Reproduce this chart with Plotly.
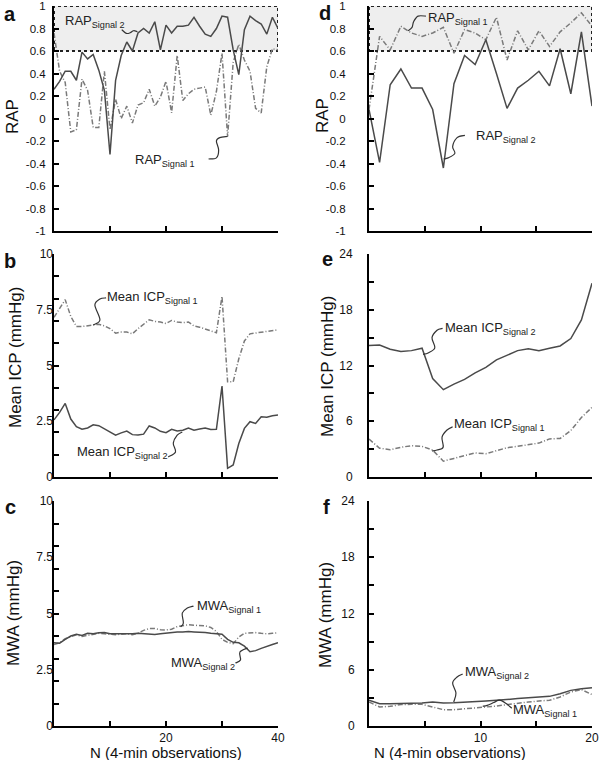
import plotly.graph_objects as go

FONT = "Liberation Sans, Arial, sans-serif"

# ---------------- data ----------------
n_left = list(range(41))  # observation index, panels a-c
n_right = [0, 0.95, 1.9, 2.86, 3.81, 4.76, 5.71, 6.67, 7.62, 8.57, 9.52,
           10.48, 11.43, 12.38, 13.33, 14.29, 15.24, 16.19, 17.14, 18.1, 19.05, 20]

rap_sig1_a = [0.76, 0.42, 0.32, -0.12, -0.10, 0.35, 0.25, -0.08, -0.08, 0.42, -0.10,
              0.17, 0.00, 0.11, -0.04, 0.12, 0.14, 0.26, 0.11, 0.19, 0.33,
              0.05, 0.56, 0.16, 0.22, 0.26, 0.27, 0.28, 0.03, 0.24, 0.58,
              -0.16, 0.50, 0.66, 0.52, 0.42, 0.09, 0.05, 0.46, 0.62, 0.61]
rap_sig2_a = [0.26, 0.33, 0.42, 0.42, 0.34, 0.59, 0.53, 0.57, 0.43, 0.25, -0.32,
              0.34, 0.56, 0.68, 0.60, 0.76, 0.80, 0.76, 0.86, 0.61, 0.83,
              0.76, 0.82, 0.82, 0.83, 0.90, 0.82, 0.75, 0.73, 0.80, 0.91,
              0.90, 0.61, 0.39, 0.79, 0.91, 0.87, 0.84, 0.75, 0.90, 0.80]

icp_sig1_b = [7.16, 7.55, 7.95, 7.20, 6.75, 6.75, 6.78, 6.82, 6.85, 6.78, 6.65,
              6.45, 6.50, 6.50, 6.42, 6.65, 6.85, 7.05, 6.98, 6.95, 6.88,
              7.02, 6.95, 6.92, 6.95, 6.77, 6.72, 6.65, 6.55, 6.47, 8.10,
              4.27, 4.27, 5.30, 6.10, 6.42, 6.45, 6.48, 6.52, 6.56, 6.60]
icp_sig2_b = [2.56, 2.90, 3.30, 2.60, 2.26, 2.14, 2.20, 2.34, 2.30, 2.15, 2.00,
              1.88, 1.98, 2.06, 1.90, 1.88, 1.92, 2.29, 2.20, 2.05, 1.99,
              2.14, 2.06, 2.10, 2.20, 2.10, 2.15, 2.20, 2.13, 2.14, 4.08,
              0.39, 0.54, 1.50, 2.18, 2.48, 2.40, 2.70, 2.68, 2.75, 2.78]

mwa_sig1_c = [3.62, 3.70, 3.88, 3.98, 4.05, 3.98, 4.02, 4.08, 4.12, 4.10, 4.08,
              4.06, 4.08, 4.10, 4.06, 4.12, 4.25, 4.33, 4.33, 4.28, 4.27,
              4.30, 4.42, 4.47, 4.50, 4.48, 4.48, 4.45, 4.38, 4.20, 3.85,
              3.72, 3.66, 3.95, 4.12, 4.15, 4.15, 4.12, 4.10, 4.12, 4.14]
mwa_sig2_c = [3.70, 3.68, 3.85, 4.00, 4.08, 4.02, 4.12, 4.10, 4.14, 4.16, 4.10,
              4.10, 4.08, 4.10, 4.10, 4.12, 4.10, 4.08, 4.07, 4.10, 4.13,
              4.15, 4.18, 4.18, 4.20, 4.18, 4.18, 4.15, 4.12, 4.10, 4.08,
              3.85, 3.72, 3.70, 3.55, 3.30, 3.35, 3.45, 3.55, 3.62, 3.70]

rap_sig1_d = [0.08, 0.73, 0.61, 0.82, 0.76, 0.73, 0.76, 0.81, 0.58, 0.79, 0.76,
              0.70, 0.90, 0.52, 0.78, 0.61, 0.78, 0.64, 0.77, 0.85, 0.94, 0.82]
rap_sig2_d = [0.08, -0.39, 0.30, 0.44, 0.27, 0.27, 0.08, -0.44, 0.31, 0.56, 0.48,
              0.70, 0.40, 0.09, 0.27, 0.34, 0.42, 0.29, 0.62, 0.22, 0.77, 0.11]

icp_sig1_e = [4.08, 3.10, 2.94, 3.20, 3.37, 3.30, 2.90, 1.70, 2.00, 2.30, 2.60,
              2.50, 2.85, 3.15, 3.30, 3.45, 3.65, 4.10, 4.15, 5.00, 6.40, 7.50]
icp_sig2_e = [14.15, 14.20, 13.75, 13.50, 13.60, 13.86, 10.60, 9.40, 10.00, 10.50, 11.20,
              11.80, 12.60, 13.10, 13.60, 13.80, 13.60, 13.86, 14.10, 14.90, 16.90, 20.85]

mwa_sig1_f = [2.56, 2.03, 2.10, 2.28, 2.31, 2.31, 2.03, 1.74, 1.74, 1.81, 1.88,
              2.03, 2.13, 2.28, 2.45, 2.56, 2.67, 2.74, 3.10, 3.63, 3.88, 3.35]
mwa_sig2_f = [2.74, 2.38, 2.38, 2.38, 2.38, 2.45, 2.56, 2.45, 2.47, 2.56, 2.63,
              2.67, 2.74, 2.80, 2.92, 3.00, 3.10, 3.16, 3.45, 3.80, 3.98, 4.09]

rap_tickvals = [-1, -0.8, -0.6, -0.4, -0.2, 0, 0.2, 0.4, 0.6, 0.8, 1]
rap_ticktext = ["-1", "-0.8", "-0.6", "-0.4", "-0.2", "0", "0.2", "0.4", "0.6", "0.8", "1"]
mmhg10_tickmarks = [0, 1, 2, 3, 4, 5, 6, 7, 8, 9, 10]
mmhg10_labelvals = [0, 2.5, 5, 7.5, 10]
mmhg10_labeltext = ["0", "2.5", "5", "7.5", "10"]
mmhg24_labelvals = [0, 6, 12, 18, 24]
mmhg24_minorvals = [3, 9, 15, 21]
xl_tickmarks = [0, 10, 20, 30, 40]
xl_labelvals = [20, 40]
xl_minorvals = [0, 10, 30]
xr_tickmarks = [0, 5, 10, 15, 20]
xr_labelvals = [10, 20]
xr_minorvals = [0, 5, 15]

SOLID = "#4a4a4a"
DASHC = "#7a7a7a"
DASH = "5px,2px,1px,2px"

W, H = 600, 760

fig = go.Figure()

def add_pair(xs, s1, s2, xa, ya1, ya2):
    fig.add_trace(go.Scatter(x=xs, y=s1, mode="lines", xaxis=xa, yaxis=ya1,
                             line=dict(color=DASHC, width=1.5, dash=DASH),
                             showlegend=False, hoverinfo="skip"))
    fig.add_trace(go.Scatter(x=xs, y=s2, mode="lines", xaxis=xa, yaxis=ya2,
                             line=dict(color=SOLID, width=1.5),
                             showlegend=False, hoverinfo="skip"))

add_pair(n_left, rap_sig1_a, rap_sig2_a, "x", "y", "y")
add_pair(n_left, icp_sig1_b, icp_sig2_b, "x2", "y2", "y7")
add_pair(n_left, mwa_sig1_c, mwa_sig2_c, "x3", "y3", "y8")
add_pair(n_right, rap_sig1_d, rap_sig2_d, "x4", "y4", "y4")
add_pair(n_right, icp_sig1_e, icp_sig2_e, "x5", "y5", "y5")
add_pair(n_right, mwa_sig1_f, mwa_sig2_f, "x6", "y6", "y6")

def hdom(x0, x1):
    return [x0 / W, x1 / W]

def vdom(top, bottom):
    return [1 - bottom / H, 1 - top / H]

XL = hdom(54, 278)
XR = hdom(369, 592)
RA = vdom(6, 231)
RB = vdom(254, 477)
RC = vdom(501, 726)

MINOR = dict(ticks="inside", ticklen=5, tickwidth=1.5, tickcolor="black")

def base_axis(**kw):
    d = dict(showline=True, linecolor="black", linewidth=2, ticks="inside",
             ticklen=5, tickwidth=1.5, tickcolor="black", showgrid=False,
             zeroline=False, automargin=False, fixedrange=True,
             tickfont=dict(family=FONT, size=12, color="#111"))
    d.update(kw)
    return d

def x_top(domain, anchor, rng, marks):
    return base_axis(domain=domain, anchor=anchor, range=rng, tickvals=marks,
                     showticklabels=False)

def x_bottom(domain, anchor, rng, labs, minors):
    return base_axis(domain=domain, anchor=anchor, range=rng, tickvals=labs,
                     minor=dict(tickvals=minors, **MINOR), ticklabelstandoff=0)

RAPFONT = dict(family=FONT, size=11.5, color="#111")

layout = dict(
    width=W, height=H, margin=dict(l=0, r=0, t=0, b=0),
    paper_bgcolor="white", plot_bgcolor="white", showlegend=False,
    font=dict(family=FONT, color="#111"),
    xaxis=x_top(XL, "y", [0, 40], xl_tickmarks),
    xaxis2=x_top(XL, "y2", [0, 40], xl_tickmarks),
    xaxis3=x_bottom(XL, "y3", [0, 40], xl_labelvals, xl_minorvals),
    xaxis4=x_top(XR, "y4", [0, 20], xr_tickmarks),
    xaxis5=x_top(XR, "y5", [0, 20], xr_tickmarks),
    xaxis6=x_bottom(XR, "y6", [0, 20], xr_labelvals, xr_minorvals),
    yaxis=base_axis(domain=RA, anchor="x", range=[-1, 1], tickvals=rap_tickvals,
                    ticktext=rap_ticktext, ticklabelstandoff=4, tickfont=RAPFONT),
    yaxis2=base_axis(domain=RB, anchor="x2", range=[0, 10], tickvals=mmhg10_tickmarks,
                     showticklabels=False),
    yaxis7=base_axis(domain=RB, anchor="x2", overlaying="y2", side="left", range=[0, 10],
                     tickvals=mmhg10_labelvals, ticktext=mmhg10_labeltext, ticks="",
                     showline=False, ticklabelstandoff=0),
    yaxis3=base_axis(domain=RC, anchor="x3", range=[0, 10], tickvals=mmhg10_tickmarks,
                     showticklabels=False),
    yaxis8=base_axis(domain=RC, anchor="x3", overlaying="y3", side="left", range=[0, 10],
                     tickvals=mmhg10_labelvals, ticktext=mmhg10_labeltext, ticks="",
                     showline=False, ticklabelstandoff=0),
    yaxis4=base_axis(domain=RA, anchor="x4", range=[-1, 1], tickvals=rap_tickvals,
                     ticktext=rap_ticktext, ticklabelstandoff=19, tickfont=RAPFONT),
    yaxis5=base_axis(domain=RB, anchor="x5", range=[0, 24], tickvals=mmhg24_labelvals,
                     minor=dict(tickvals=mmhg24_minorvals, **MINOR), ticklabelstandoff=12),
    yaxis6=base_axis(domain=RC, anchor="x6", range=[0, 24], tickvals=mmhg24_labelvals,
                     minor=dict(tickvals=mmhg24_minorvals, **MINOR), ticklabelstandoff=10),
)
fig.update_layout(**layout)

# shaded reference band (0.6 - 1) in RAP panels
for xr, yr, xmax in (("x", "y", 40), ("x4", "y4", 20)):
    fig.add_shape(type="rect", xref=xr, yref=yr, x0=0, x1=xmax, y0=0.6, y1=1,
                  fillcolor="#eeeeee", line=dict(color="#222", width=2, dash="dot"),
                  layer="below")

def squiggle(pts):
    path = f"M {pts[0][0]},{pts[0][1]}"
    for i in range(len(pts) - 1):
        p0 = pts[i - 1] if i > 0 else pts[i]
        p1, p2 = pts[i], pts[i + 1]
        p3 = pts[i + 2] if i + 2 < len(pts) else pts[i + 1]
        c1 = (p1[0] + (p2[0] - p0[0]) / 6, p1[1] + (p2[1] - p0[1]) / 6)
        c2 = (p2[0] - (p3[0] - p1[0]) / 6, p2[1] - (p3[1] - p1[1]) / 6)
        path += f" C {c1[0]:.3f},{c1[1]:.3f} {c2[0]:.3f},{c2[1]:.3f} {p2[0]:.3f},{p2[1]:.3f}"
    return path

labels = [
    ("x", "y", "RAP<sub>Signal 2</sub>", 7.3, 0.86,
     [(12.1, 0.79), (12.9, 0.757), (13.6, 0.762), (14.2, 0.78), (14.9, 0.772)]),
    ("x", "y", "RAP<sub>Signal 1</sub>", 19.9, -0.37,
     [(27.6, -0.36), (29.0, -0.35), (29.4, -0.28), (29.0, -0.20), (29.6, -0.17), (31.0, -0.16)]),
    ("x2", "y2", "Mean ICP<sub>Signal 1</sub>", 17.6, 8.03,
     [(9.3, 8.03), (8.2, 7.98), (7.3, 7.71), (8.2, 7.04), (7.0, 6.82)]),
    ("x2", "y2", "Mean ICP<sub>Signal 2</sub>", 12.2, 1.08,
     [(20.4, 0.9), (21.7, 1.12), (21.3, 1.52), (22.0, 1.88), (22.9, 2.02)]),
    ("x3", "y3", "MWA<sub>Signal 1</sub>", 31.2, 5.33,
     [(24.9, 5.33), (23.8, 5.24), (22.9, 5.02), (23.1, 4.58), (22.6, 4.4)]),
    ("x3", "y3", "MWA<sub>Signal 2</sub>", 26.6, 2.8,
     [(32.4, 2.8), (33.3, 2.93), (33.2, 3.29), (34.6, 3.47)]),
    ("x4", "y4", "RAP<sub>Signal 1</sub>", 7.94, 0.89,
     [(5.1, 0.91), (4.4, 0.91), (4.0, 0.86), (3.86, 0.81), (3.5, 0.78)]),
    ("x4", "y4", "RAP<sub>Signal 2</sub>", 12.3, -0.16,
     [(8.6, -0.15), (7.9, -0.17), (7.5, -0.25), (7.7, -0.31), (7.1, -0.35), (6.7, -0.36)]),
    ("x5", "y5", "Mean ICP<sub>Signal 2</sub>", 10.9, 16.0,
     [(6.6, 16.0), (6.1, 15.8), (5.65, 15.0), (5.9, 13.9), (5.3, 13.35), (4.85, 13.2)]),
    ("x5", "y5", "Mean ICP<sub>Signal 1</sub>", 11.7, 5.6,
     [(7.5, 5.4), (7.0, 5.06), (6.55, 4.3), (6.65, 3.2), (6.1, 2.9), (5.65, 2.8)]),
    ("x6", "y6", "MWA<sub>Signal 2</sub>", 11.5, 5.76,
     [(8.4, 5.55), (7.9, 5.23), (7.5, 4.59), (7.8, 3.52), (7.6, 2.56)]),
    ("x6", "y6", "MWA<sub>Signal 1</sub>", 15.8, 1.7,
     [(12.8, 1.9), (12.3, 2.4), (11.7, 2.75), (11.2, 2.5), (10.6, 2.2), (10.2, 2.1)]),
]
for xr, yr, text, tx, ty, pts in labels:
    fig.add_annotation(xref=xr, yref=yr, x=tx, y=ty, text=text, showarrow=False,
                       xanchor="center", yanchor="middle",
                       font=dict(family=FONT, size=13, color="#222"))
    fig.add_shape(type="path", xref=xr, yref=yr, path=squiggle(pts),
                  line=dict(color="#333", width=1.2))

def paper_text(text, px, py, size, angle=0):
    fig.add_annotation(xref="paper", yref="paper", x=px / W, y=1 - py / H,
                       text=text, showarrow=False, textangle=angle,
                       xanchor="center", yanchor="middle",
                       font=dict(family=FONT, size=size, color="#111"))

# axis titles
paper_text("RAP", 13, 117, 17, -90)
paper_text("Mean ICP (mmHg)", 15, 358, 17, -90)
paper_text("MWA (mmHg)", 13, 613, 17, -90)
paper_text("RAP", 322, 116, 17, -90)
paper_text("Mean ICP (mmHg)", 327, 367, 17, -90)
paper_text("MWA (mmHg)", 325, 615, 17, -90)
paper_text("N (4-min observations)", 166, 752, 15)
paper_text("N (4-min observations)", 450, 752, 15)

# panel letters
for letter, px, py in (("a", 10, 14), ("b", 10, 261), ("c", 10, 507),
                       ("d", 325, 13), ("e", 327, 259), ("f", 326, 507)):
    paper_text(f"<b>{letter}</b>", px, py, 20)

fig.write_html("out.html", config={"displayModeBar": False},
               post_script="document.body.style.margin='0';document.body.style.padding='0';")
